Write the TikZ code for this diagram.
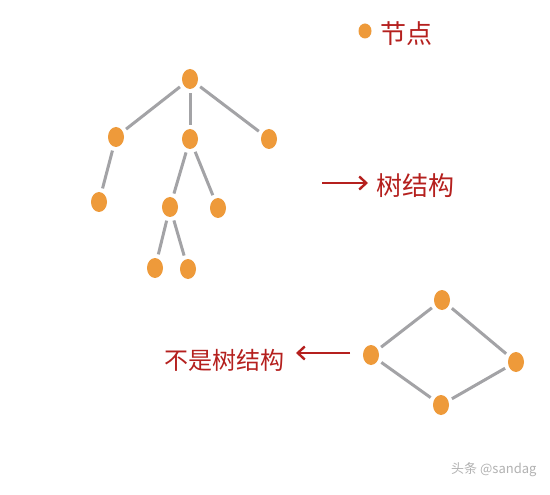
\documentclass[tikz,border=0pt]{standalone}
\usepackage{fontspec}
\newfontfamily\cjk{Noto Sans CJK SC}
\usetikzlibrary{arrows.meta,shapes.geometric}
\definecolor{nodeorange}{HTML}{EE9A3A}
\definecolor{edgegray}{HTML}{A3A3A6}
\definecolor{inkred}{HTML}{B5201E}
\tikzset{
  dot/.style={ellipse, fill=nodeorange, minimum width=16pt, minimum height=20pt, inner sep=0pt},
  link/.style={draw=edgegray, line width=3pt, shorten >=4pt, shorten <=4pt},
  label/.style={text=inkred, font=\cjk\fontsize{26}{26}\selectfont, inner sep=0pt},
  redarrow/.style={draw=inkred, line width=2.4pt, -{Straight Barb[length=7pt,width=13pt]}},
}
\begin{document}
\begin{tikzpicture}[x=1pt,y=-1pt]
\useasboundingbox[fill=white] (0,0) rectangle (550,495);
% tree
\node[dot] (r) at (190,79) {};
\node[dot] (a) at (116,137) {};
\node[dot] (b) at (190,139) {};
\node[dot] (c) at (269,139) {};
\node[dot] (aa) at (99,202) {};
\node[dot] (ba) at (170,207) {};
\node[dot] (bb) at (218,208) {};
\node[dot] (baa) at (155,268) {};
\node[dot] (bab) at (188,269) {};
\draw[link] (r) -- (a);
\draw[link] (r) -- (b);
\draw[link] (r) -- (c);
\draw[link] (a) -- (aa);
\draw[link] (b) -- (ba);
\draw[link] (b) -- (bb);
\draw[link] (ba) -- (baa);
\draw[link] (ba) -- (bab);
% cycle
\node[dot] (t) at (442,300) {};
\node[dot] (l) at (371,355) {};
\node[dot] (rr) at (516,362) {};
\node[dot] (bt) at (441,405) {};
\draw[link] (l) -- (t);
\draw[link] (t) -- (rr);
\draw[link] (rr) -- (bt);
\draw[link] (bt) -- (l);
% legend
\node[dot, minimum width=13pt, minimum height=15pt] (leg) at (365,31) {};
\node[label, anchor=west] (legt) at (380,34) {节点};
% tree label
\coordinate (ta) at (322,183);
\coordinate (tb) at (368,183);
\node[label, anchor=west] (tl) at (376,186) {树结构};
\draw[redarrow] (ta) -- (tb);
% not tree label
\node[label, anchor=west, font=\cjk\fontsize{24}{24}\selectfont] (ntl) at (164,360) {不是树结构};
\coordinate (na) at (350,353);
\coordinate (nb) at (296,353);
\draw[redarrow] (na) -- (nb);
% watermark
\node[text=gray!60, font=\cjk\fontsize{13}{13}\selectfont, anchor=east] (wm) at (540,470) {头条 @sandag};
\end{tikzpicture}
\end{document}
